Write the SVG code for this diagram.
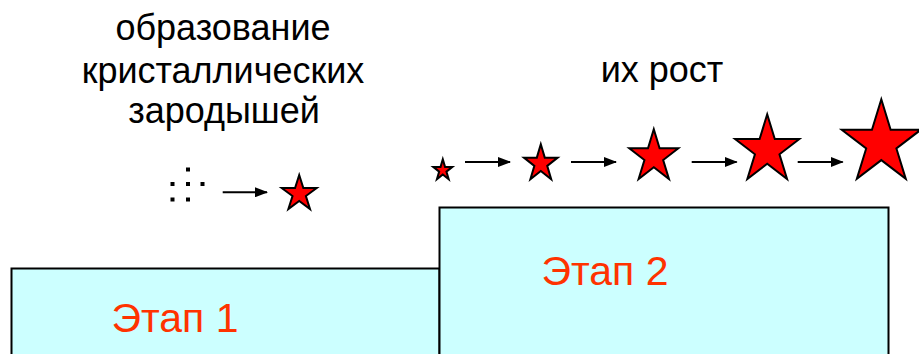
<svg xmlns="http://www.w3.org/2000/svg" xmlns:xlink="http://www.w3.org/1999/xlink" width="919" height="354" viewBox="0 0 919 354">
<style>
.lbl{font-family:"Liberation Sans",Arial,sans-serif;font-size:36px;fill:#000;text-anchor:middle}
.stage{font-family:"Liberation Sans",Arial,sans-serif;font-size:41px;fill:#FF3300;text-anchor:middle}
.box{fill:#CCFFFF;stroke:#000;stroke-width:2}
.arr{stroke:#000;stroke-width:2;fill:none;marker-end:url(#ah)}
.dot{fill:#000}
</style>
<defs>
<marker id="ah" markerWidth="13" markerHeight="10" refX="12" refY="5" orient="auto" markerUnits="userSpaceOnUse">
<path d="M0,0 L13,5 L0,10 Z" fill="#000"/>
</marker>
<path id="star" d="M0,-1 L0.2245,-0.309 L0.951,-0.309 L0.363,0.118 L0.588,0.809 L0,0.382 L-0.588,0.809 L-0.363,0.118 L-0.951,-0.309 L-0.2245,-0.309 Z" fill="#FF0000" stroke="#000" stroke-width="2" stroke-linejoin="miter" vector-effect="non-scaling-stroke"/>
</defs>
<g id="stage1">
<rect class="box" x="11.5" y="268.5" width="428" height="100"/>
<text class="stage" x="175" y="331.5">Этап 1</text>
</g>
<g id="stage2">
<rect class="box" x="439.5" y="207.5" width="449" height="160"/>
<text class="stage" x="605" y="285">Этап 2</text>
</g>
<g id="label1">
<text class="lbl" x="223" y="39.5">образование</text>
<text class="lbl" x="223" y="82.5">кристаллических</text>
<text class="lbl" x="224" y="123">зародышей</text>
</g>
<g id="label2">
<text class="lbl" x="662" y="81.5">их рост</text>
</g>
<g id="nuclei">
<rect class="dot" x="186" y="167.5" width="4" height="4"/>
<rect class="dot" x="170.5" y="182" width="4" height="4"/>
<rect class="dot" x="186" y="182" width="4" height="4"/>
<rect class="dot" x="200.5" y="182" width="4" height="4"/>
<rect class="dot" x="170.5" y="197.5" width="4" height="4"/>
<rect class="dot" x="186" y="197.5" width="4" height="4"/>
</g>
<g id="stars">
<use xlink:href="#star" transform="translate(299.2,193.8) scale(18.4,18.8)"/>
<use xlink:href="#star" transform="translate(442.8,170.3) scale(10,11)"/>
<use xlink:href="#star" transform="translate(540.8,163.6) scale(17.7,19.3)"/>
<use xlink:href="#star" transform="translate(653.8,156.8) scale(25.8,27.5)"/>
<use xlink:href="#star" transform="translate(767.2,150.1) scale(33.8,35.8)"/>
<use xlink:href="#star" transform="translate(881.3,143.3) scale(41.6,44)"/>
</g>
<g id="connectors">
<line class="arr" x1="222.7" y1="192.3" x2="267" y2="192.3"/>
<line class="arr" x1="465" y1="162" x2="510" y2="162"/>
<line class="arr" x1="571" y1="162" x2="616" y2="162"/>
<line class="arr" x1="691.7" y1="162" x2="736.7" y2="162"/>
<line class="arr" x1="797.7" y1="162" x2="842.7" y2="162"/>
</g>
</svg>
